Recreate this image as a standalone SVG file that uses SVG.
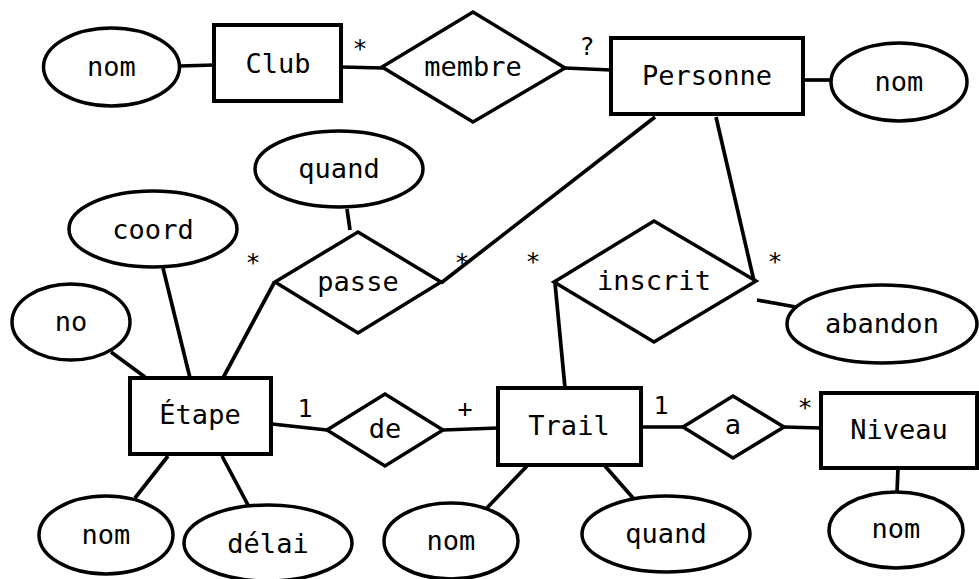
<svg xmlns="http://www.w3.org/2000/svg" width="979" height="579" viewBox="0 0 979 579">
<style>
text{font-family:"DejaVu Sans Mono","Liberation Mono",monospace;font-size:27px;fill:#000;text-anchor:middle}
.lbl{font-size:25px}
rect{fill:#fff;stroke:#000;stroke-width:4}
ellipse{fill:#fff;stroke:#000;stroke-width:3.5}
polygon{fill:#fff;stroke:#000;stroke-width:3.5}
#edges line{stroke:#000;stroke-width:3.7}
</style>
<rect x="0" y="0" width="979" height="579" style="stroke:none"/>
<g id="edges">
<line x1="180" y1="66" x2="214" y2="65"/>
<line x1="341" y1="67" x2="383" y2="68"/>
<line x1="565" y1="68" x2="611" y2="70"/>
<line x1="803" y1="80" x2="831" y2="80"/>
<line x1="655" y1="117" x2="441" y2="283"/>
<line x1="716" y1="117" x2="754" y2="281"/>
<line x1="347" y1="209" x2="350" y2="230"/>
<line x1="274" y1="283" x2="223" y2="378"/>
<line x1="163" y1="268" x2="190" y2="378"/>
<line x1="111" y1="352" x2="145" y2="377"/>
<line x1="272" y1="424" x2="327" y2="430"/>
<line x1="443" y1="430" x2="498" y2="428"/>
<line x1="565" y1="388" x2="555" y2="283"/>
<line x1="757" y1="300" x2="796" y2="307"/>
<line x1="641" y1="427" x2="683" y2="427"/>
<line x1="784" y1="427" x2="821" y2="428"/>
<line x1="898" y1="468" x2="897" y2="493"/>
<line x1="527" y1="466" x2="485" y2="510"/>
<line x1="605" y1="466" x2="633" y2="498"/>
<line x1="168" y1="456" x2="135" y2="498"/>
<line x1="222" y1="456" x2="248" y2="505"/>
</g>
<g id="labels">
<text class="lbl" x="360" y="57">*</text>
<text class="lbl" x="587" y="55">?</text>
<text class="lbl" x="253" y="271">*</text>
<text class="lbl" x="462" y="271">*</text>
<text class="lbl" x="533" y="270">*</text>
<text class="lbl" x="775" y="270">*</text>
<text class="lbl" x="305" y="417">1</text>
<text class="lbl" x="465" y="417">+</text>
<text class="lbl" x="661" y="414">1</text>
<text class="lbl" x="805" y="416">*</text>
</g>
<g id="club"><rect x="214" y="25" width="127" height="76"/><text x="278" y="73">Club</text></g>
<g id="club-nom"><ellipse cx="111.5" cy="67" rx="68" ry="39"/><text x="111.5" y="76">nom</text></g>
<g id="membre"><polygon points="382,67 473,12 565,68 473,122"/><text x="473" y="76">membre</text></g>
<g id="personne"><rect x="611" y="38" width="192" height="76"/><text x="707" y="85">Personne</text></g>
<g id="personne-nom"><ellipse cx="899" cy="82" rx="68" ry="39"/><text x="899" y="91">nom</text></g>
<g id="passe-quand"><ellipse cx="339" cy="169" rx="84" ry="38"/><text x="339" y="178">quand</text></g>
<g id="passe"><polygon points="275,282 358,232 441,282 358,333"/><text x="358" y="291">passe</text></g>
<g id="coord"><ellipse cx="153" cy="229" rx="84" ry="38"/><text x="153" y="239">coord</text></g>
<g id="no"><ellipse cx="71" cy="322" rx="59" ry="38"/><text x="71" y="331">no</text></g>
<g id="inscrit"><polygon points="554,282 654,221 756,281 654,342"/><text x="654" y="290">inscrit</text></g>
<g id="abandon"><ellipse cx="882" cy="324" rx="95" ry="39"/><text x="882" y="333">abandon</text></g>
<g id="etape"><rect x="130" y="378" width="141" height="76"/><text x="200" y="424">Étape</text></g>
<g id="de"><polygon points="327,430 385,394 443,430 385,466"/><text x="385" y="438">de</text></g>
<g id="trail"><rect x="498" y="388" width="143" height="77"/><text x="569" y="435">Trail</text></g>
<g id="a"><polygon points="683,427 733,396 784,427 733,458"/><text x="733" y="434">a</text></g>
<g id="niveau"><rect x="821" y="393" width="156" height="75"/><text x="899" y="439">Niveau</text></g>
<g id="niveau-nom"><ellipse cx="896" cy="530" rx="67" ry="38"/><text x="896" y="538">nom</text></g>
<g id="trail-quand"><ellipse cx="666" cy="534" rx="84" ry="38"/><text x="666" y="543">quand</text></g>
<g id="trail-nom"><ellipse cx="451" cy="541" rx="67" ry="38"/><text x="451" y="550">nom</text></g>
<g id="etape-nom"><ellipse cx="106" cy="535" rx="67" ry="39"/><text x="106" y="544">nom</text></g>
<g id="delai"><ellipse cx="268" cy="543" rx="84" ry="38"/><text x="268" y="553">délai</text></g>
</svg>
